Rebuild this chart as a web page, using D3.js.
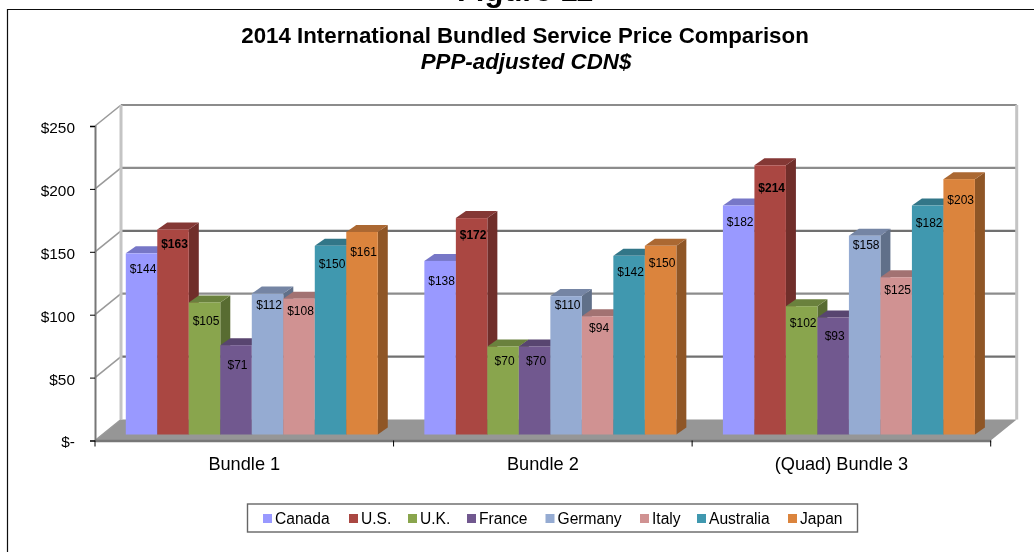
<!DOCTYPE html>
<html>
<head>
<meta charset="utf-8">
<script src="https://cdn.jsdelivr.net/npm/d3@7"></script>
<style>
  html, body { margin: 0; padding: 0; background: #fff; overflow: hidden; }
  svg { display: block; }
  text { font-family: "Liberation Sans", Arial, sans-serif; fill: #000; }
</style>
</head>
<body>
<div id="chart"></div>
<script>
// values
const bundles = ['Bundle 1', 'Bundle 2', '(Quad) Bundle 3'];
const countries = ['Canada', 'U.S.', 'U.K.', 'France', 'Germany', 'Italy', 'Australia', 'Japan'];
const canada = [144, 138, 182];
const us = [163, 172, 214];
const uk = [105, 70, 102];
const france = [71, 70, 93];
const germany = [112, 110, 158];
const italy = [108, 94, 125];
const australia = [150, 142, 182];
const japan = [161, 150, 203];
const seriesValues = [canada, us, uk, france, germany, italy, australia, japan];
const yTicks = [0, 50, 100, 150, 200, 250];

const colors = ['#9999FF', '#AA4643', '#89A54E', '#71588F', '#95ABD2', '#D09292', '#4198AF', '#DB843D'];

// how far each data label sits under its bar top (excel put them by hand, more or less)
const labelDrop = [
    [16, 20, 16],
    [15, 17, 23],
    [19, 15, 17],
    [20, 15, 18],
    [11, 9, 9],
    [12, 12, 13],
    [18, 16, 17],
    [20, 17, 21]
];
const legendX = [263, 349, 408, 467, 545.5, 640, 697, 788];

const layout = {
    width: 1034,
    height: 552,
    left: 95,
    right: 990.7,
    top: 126,
    bottom: 440.5,
    wallDx: 26,
    wallDy: -21,
    barDx: 10,
    barDy: -7,
    frontDx: 7.5,
    frontDy: -6
};

const svg = d3.select('#chart').append('svg')
    .attr('width', layout.width)
    .attr('height', layout.height);

const soft = svg.append('defs').append('filter')
    .attr('id', 'soft')
    .attr('x', '-5%').attr('y', '-5%').attr('width', '110%').attr('height', '110%');
soft.append('feGaussianBlur').attr('stdDeviation', 0.4);

const root = svg.append('g').attr('filter', 'url(#soft)');

// outer frame, only top and left show up in the crop
root.append('path')
    .attr('d', `M1034,9.5H7.5V552`)
    .attr('fill', 'none')
    .attr('stroke', '#111')
    .attr('stroke-width', 1.2);

// cut off heading
root.append('text')
    .attr('x', 525).attr('y', 0.5)
    .attr('text-anchor', 'middle')
    .attr('font-size', 31).attr('font-weight', 'bold')
    .text('Figure 11');

root.append('text')
    .attr('x', 525).attr('y', 43)
    .attr('text-anchor', 'middle')
    .attr('font-size', 22.3).attr('font-weight', 'bold')
    .text('2014 International Bundled Service Price Comparison');
root.append('text')
    .attr('x', 526).attr('y', 69)
    .attr('text-anchor', 'middle')
    .attr('font-size', 22.3).attr('font-weight', 'bold').attr('font-style', 'italic')
    .text('PPP-adjusted CDN$');

const xScale = d3.scaleBand().domain(bundles).range([layout.left, layout.right]).paddingInner(0.156).paddingOuter(0.078);
const innerScale = d3.scaleBand().domain(d3.range(countries.length)).range([0, xScale.bandwidth()]);
const yScale = d3.scaleLinear().domain([0, 250]).range([layout.bottom, layout.top]);

// floor
const d = layout.wallDx, e = layout.wallDy;
root.append('path')
    .attr('d', `M${layout.left},${layout.bottom}L${layout.left + d},${layout.bottom + e}H${layout.right + d}L${layout.right},${layout.bottom}Z`)
    .attr('fill', '#969696');

// back wall grid
const grid = root.append('g');
grid.selectAll('line.back').data(yTicks.slice(1)).join('line')
    .attr('class', 'back')
    .attr('x1', layout.left + d).attr('x2', layout.right + d)
    .attr('y1', v => yScale(v) + e).attr('y2', v => yScale(v) + e)
    .attr('stroke', v => v == 50 || v == 150 ? '#707070' : '#8c8c8c')
    .attr('stroke-width', 2.2);
grid.selectAll('line.side').data(yTicks).join('line')
    .attr('class', 'side')
    .attr('x1', layout.left).attr('x2', layout.left + d)
    .attr('y1', v => yScale(v)).attr('y2', v => yScale(v) + e)
    .attr('stroke', '#9a9a9a')
    .attr('stroke-width', 1.6);
[layout.left + d, layout.right + d].forEach(function(wx) {
    grid.append('line')
        .attr('x1', wx).attr('x2', wx)
        .attr('y1', layout.top + e).attr('y2', layout.bottom + e)
        .attr('stroke', '#c4c4c4')
        .attr('stroke-width', 3);
});

// bars, left to right so the next face covers the side of the one before
const barData = [];
bundles.forEach(function(b, bi) {
    countries.forEach(function(c, si) {
        barData.push({ bundle: b, series: si, bundleIndex: bi, value: seriesValues[si][bi] });
    });
});

const bars = root.selectAll('g.bar').data(barData).join('g')
    .attr('class', 'bar')
    .attr('transform', p => `translate(${xScale(p.bundle) + innerScale(p.series) + layout.frontDx},${layout.frontDy})`);

const w = innerScale.bandwidth();
const dx = layout.barDx, dy = layout.barDy;

bars.append('path')
    .attr('d', p => `M${w},${yScale(0)}V${yScale(p.value)}l${dx},${dy}V${yScale(0) + dy}Z`)
    .attr('fill', p => d3.rgb(colors[p.series]).darker(1.2));
bars.append('path')
    .attr('d', p => `M0,${yScale(p.value)}l${dx},${dy}H${w + dx}l${-dx},${-dy}Z`)
    .attr('fill', p => d3.rgb(colors[p.series]).darker(0.7));
bars.append('rect')
    .attr('x', 0).attr('width', w)
    .attr('y', p => yScale(p.value))
    .attr('height', p => yScale(0) - yScale(p.value))
    .attr('fill', p => colors[p.series]);

// labels on top of every bar
root.selectAll('text.val').data(barData).join('text')
    .attr('class', 'val')
    .attr('x', p => xScale(p.bundle) + innerScale(p.series) + layout.frontDx + w / 2 + 1.5)
    .attr('y', p => yScale(p.value) + layout.frontDy + labelDrop[p.series][p.bundleIndex] + 4)
    .attr('text-anchor', 'middle')
    .attr('font-size', 12)
    .attr('font-weight', p => p.series == 1 ? 'bold' : 'normal')
    .text(p => '$' + p.value);

// axes
const yAxis = d3.axisLeft(yScale)
    .tickValues(yTicks)
    .tickSize(5)
    .tickPadding(15)
    .tickFormat(v => v == 0 ? '$-' : '$' + v);

root.append('g')
    .attr('transform', `translate(${layout.left},0)`)
    .call(yAxis)
    .call(function(g) {
        g.select('.domain').attr('stroke', '#777').attr('stroke-width', 2);
        g.selectAll('.tick line').attr('stroke', '#000');
        g.selectAll('.tick text').attr('font-size', 15.4).attr('font-family', null).attr('dy', '0.42em');
    });

const xAxis = d3.axisBottom(xScale).tickSize(0).tickPadding(17);

root.append('g')
    .attr('transform', `translate(0,${layout.bottom})`)
    .call(xAxis)
    .call(function(g) {
        g.select('.domain').attr('stroke', '#777').attr('stroke-width', 2.6);
        g.selectAll('.tick text').attr('font-size', 18.2).attr('font-family', null);
    });

// ticks between the bundles
const bandEdges = bundles.map(b => xScale(b) - xScale.step() * xScale.paddingInner() / 2);
bandEdges.push(layout.right);
root.selectAll('line.edge').data(bandEdges).join('line')
    .attr('class', 'edge')
    .attr('x1', v => v).attr('x2', v => v)
    .attr('y1', layout.bottom).attr('y2', layout.bottom + 6)
    .attr('stroke', '#000');

// legend
const legend = root.append('g');
legend.append('rect')
    .attr('x', 247.5).attr('y', 504)
    .attr('width', 610).attr('height', 28)
    .attr('fill', '#fff')
    .attr('stroke', '#666')
    .attr('stroke-width', 1.4);
const items = legend.selectAll('g').data(countries).join('g')
    .attr('transform', (c, i) => `translate(${legendX[i]},0)`);
items.append('rect')
    .attr('x', 0).attr('y', 514)
    .attr('width', 9).attr('height', 9)
    .attr('fill', (c, i) => colors[i]);
items.append('text')
    .attr('x', 12).attr('y', 524)
    .attr('font-size', 15.6)
    .text(c => c);
</script>
</body>
</html>
